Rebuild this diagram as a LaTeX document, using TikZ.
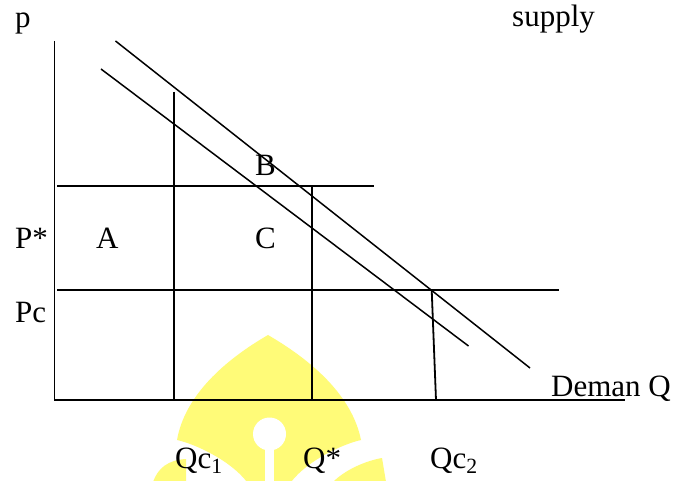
\documentclass[tikz,border=0pt]{standalone}
\usepackage{fontspec}
\setmainfont{Liberation Serif}
\definecolor{wmyellow}{RGB}{255,251,120}
\begin{document}
\begin{tikzpicture}[x=1pt,y=-1pt,
  axisline/.style={line width=1.8pt},
  gridline/.style={line width=1.8pt},
  curveline/.style={line width=1.5pt},
  lbl/.style={anchor=base west,inner sep=0pt,font=\fontsize{31}{37}\selectfont},
  wm/.style={fill=wmyellow,draw=none},
  wmhole/.style={fill=white,draw=none}]
\useasboundingbox (0,0) rectangle (678,481);
\fill[white] (0,0) rectangle (678,481);

% watermark (background logo)
\fill[wm] (177,440) .. controls (185,395) and (225,360) .. (268,335)
  .. controls (311,360) and (352,395) .. (361,440)
  .. controls (343,444) and (308,460) .. (291,482)
  -- (247,482) .. controls (230,460) and (195,444) .. (177,440) -- cycle;
\fill[wmhole] (269.5,434) circle (16.5);
\fill[wmhole] (265,434) rectangle (274,482);
\fill[wm] (153,482) .. controls (158,468) and (168,460) .. (186,459) -- (186,482) -- cycle;
\fill[wm] (333,482) .. controls (345,470) and (365,461) .. (382,458) -- (386,482) -- cycle;

% coordinates
\coordinate (yTop) at (54.5,41);
\coordinate (O) at (54.5,400);
\coordinate (xEnd) at (625,400);
\coordinate (pstarL) at (57,186);
\coordinate (pstarR) at (374,186);
\coordinate (pcL) at (57,290);
\coordinate (pcR) at (559,290);
\coordinate (qcOneT) at (174.3,92);
\coordinate (qcOneB) at (174.3,400);
\coordinate (qsT) at (311.7,186);
\coordinate (qsB) at (311.7,400);
\coordinate (qcTwoT) at (431.7,290);
\coordinate (qcTwoB) at (436,400);
\coordinate (supA) at (115.5,41);
\coordinate (supB) at (530,368);
\coordinate (demA) at (101,69);
\coordinate (demB) at (468.5,346);

% axes
\draw[axisline] (yTop) -- (O) -- (xEnd);
% price lines
\draw[gridline] (pstarL) -- (pstarR);
\draw[gridline] (pcL) -- (pcR);
% quantity lines
\draw[gridline] (qcOneT) -- (qcOneB);
\draw[gridline] (qsT) -- (qsB);
\draw[gridline] (qcTwoT) -- (qcTwoB);
% supply / demand lines
\draw[curveline] (supA) -- (supB);
\draw[curveline] (demA) -- (demB);

% labels
\node[lbl] (lp) at (15,28) {p};
\node[lbl] (lsupply) at (512,27) {supply};
\node[lbl] (lB) at (255,176) {B};
\node[lbl] (lPstar) at (15,249) {P*};
\node[lbl] (lA) at (96,249) {A};
\node[lbl] (lC) at (255,249) {C};
\node[lbl] (lPc) at (15,323) {Pc};
\node[lbl] (lDeman) at (551,396) {Deman Q};
\node[lbl] (lQcOne) at (175,468) {Qc\textsubscript{1}};
\node[lbl] (lQstar) at (303,468) {Q*};
\node[lbl] (lQcTwo) at (430,468) {Qc\textsubscript{2}};
\end{tikzpicture}
\end{document}
